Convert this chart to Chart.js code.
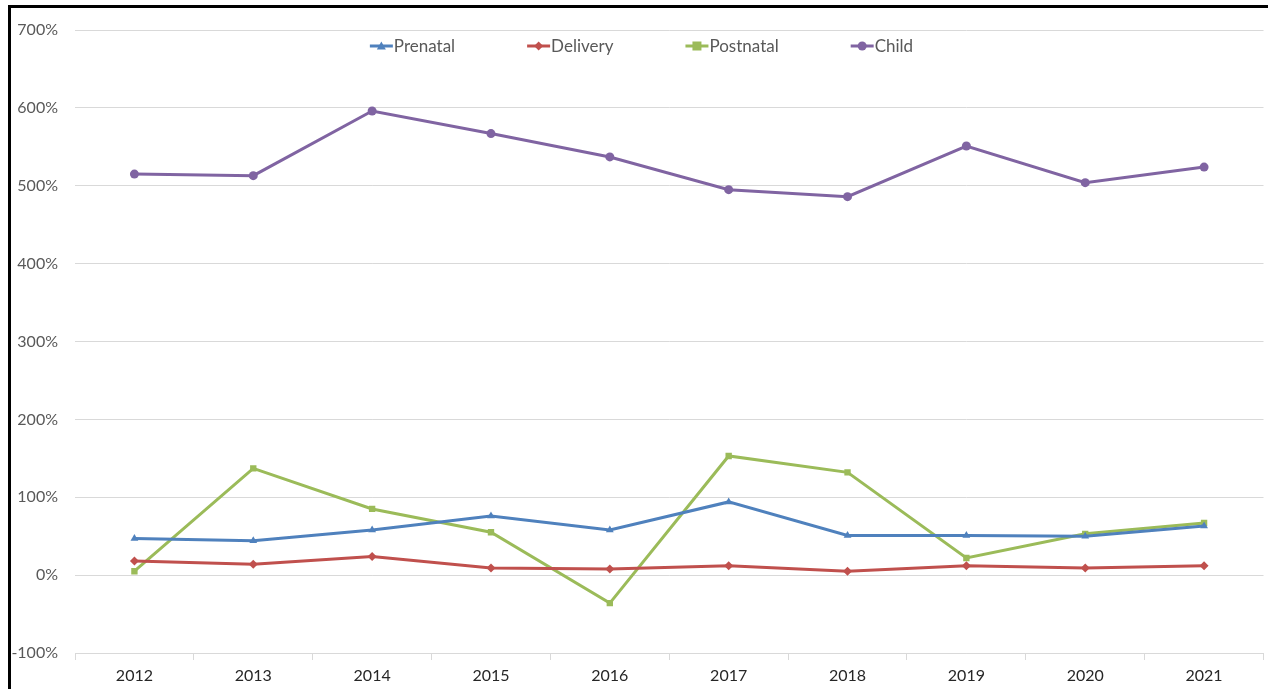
<!DOCTYPE html>
<html>
<head>
<meta charset="utf-8">
<script src="https://cdn.jsdelivr.net/npm/chart.js@4"></script>
<style>
  html, body { margin: 0; padding: 0; background: #fff; }
  #frame {
    position: absolute;
    left: 8px;
    top: 5px;
    width: 1260px;
    height: 684px;
    border-top: 3px solid #000;
    border-left: 3px solid #000;
  }
  #wrap { position: relative; width: 1257px; height: 681px; }
</style>
</head>
<body>
<div id="frame"><div id="wrap"><canvas id="myChart"></canvas></div></div>
<script>
const years = ["2012", "2013", "2014", "2015", "2016", "2017", "2018", "2019", "2020", "2021"];
const prenatal = [47, 44, 58, 76, 58, 94, 51, 51, 50, 63];
const delivery = [18, 14, 24, 9, 8, 12, 5, 12, 9, 12];
const postnatal = [5, 137, 85, 55, -36, 153, 132, 22, 53, 67];
const child = [515, 513, 596, 567, 537, 495, 486, 551, 504, 524];

const yTicks = [-100, 0, 100, 200, 300, 400, 500, 600, 700];

const seriesNames = ["Prenatal", "Delivery", "Postnatal", "Child"];
const seriesColors = ["#4F81BD", "#C0504D", "#9BBB59", "#8064A2"];
const seriesMarkers = ["triangle", "rectRot", "rect", "circle"];
const seriesData = [prenatal, delivery, postnatal, child];

const font = "Lato, 'Liberation Sans', sans-serif";

function drawMarker(ctx, style, x, y, r) {
  ctx.beginPath();
  if (style === "triangle") {
    ctx.moveTo(x, y - r);
    ctx.lineTo(x + r, y + r * 0.8);
    ctx.lineTo(x - r, y + r * 0.8);
    ctx.closePath();
  } else if (style === "rectRot") {
    ctx.moveTo(x, y - r);
    ctx.lineTo(x + r, y);
    ctx.lineTo(x, y + r);
    ctx.lineTo(x - r, y);
    ctx.closePath();
  } else if (style === "rect") {
    ctx.rect(x - r, y - r, r * 2, r * 2);
  } else {
    ctx.arc(x, y, r, 0, Math.PI * 2);
  }
  ctx.fill();
}

// legend across the top of the plot, line + marker like the series
const topLegend = {
  id: "topLegend",
  afterDraw(chart) {
    const ctx = chart.ctx;
    const gap = 72, lineW = 23, textGap = 1;
    ctx.save();
    ctx.font = "17px " + font;
    ctx.textBaseline = "middle";
    const widths = seriesNames.map(n => lineW + textGap + ctx.measureText(n).width);
    const total = widths.reduce((a, b) => a + b, 0) + gap * (widths.length - 1);
    let x = chart.width / 2 - total / 2 + 2;
    const y = 38;
    seriesNames.forEach((name, i) => {
      ctx.strokeStyle = seriesColors[i];
      ctx.fillStyle = seriesColors[i];
      ctx.lineWidth = 3;
      ctx.beginPath();
      ctx.moveTo(x, y);
      ctx.lineTo(x + lineW, y);
      ctx.stroke();
      drawMarker(ctx, seriesMarkers[i], x + lineW / 2, y, 4.5);
      ctx.fillStyle = "#595959";
      ctx.fillText(name, x + lineW + textGap, y + 1);
      x += widths[i] + gap;
    });
    ctx.restore();
  }
};

const ctx = document.getElementById("myChart").getContext("2d");

const myChart = new Chart(ctx, {
  type: "line",
  data: {
    labels: years,
    datasets: seriesNames.map((name, i) => ({
      label: name,
      data: seriesData[i],
      borderColor: seriesColors[i],
      backgroundColor: seriesColors[i],
      borderWidth: 3,
      pointStyle: seriesMarkers[i],
      pointRadius: 4.5,
      pointBorderWidth: 0,
      tension: 0,
    })),
  },
  options: {
    responsive: true,
    maintainAspectRatio: false,
    animation: false,
    layout: { padding: { top: 22, right: 3, bottom: 0, left: 0 } },
    plugins: {
      legend: { display: false },
      tooltip: { enabled: false },
    },
    scales: {
      x: {
        offset: true,
        grid: {
          offset: true,
          drawOnChartArea: false,
          color: "#D9D9D9",
          tickLength: 7,
        },
        border: { color: "#D9D9D9", width: 1 },
        ticks: {
          color: "#262626",
          font: { family: font, size: 16 },
          padding: 6,
        },
        afterFit(scale) { scale.height = 36; },
      },
      y: {
        min: -100,
        max: 700,
        afterBuildTicks(scale) { scale.ticks = yTicks.map(v => ({ value: v })); },
        grid: { color: "#D9D9D9", drawTicks: false },
        border: { display: false },
        ticks: {
          color: "#595959",
          font: { family: font, size: 16 },
          padding: 17,
          callback: v => v + "%",
        },
        afterFit(scale) {
          scale.width = 64;
          scale.paddingTop = 0;
          scale.paddingBottom = 0;
        },
      },
    },
  },
  plugins: [topLegend],
});
</script>
</body>
</html>
